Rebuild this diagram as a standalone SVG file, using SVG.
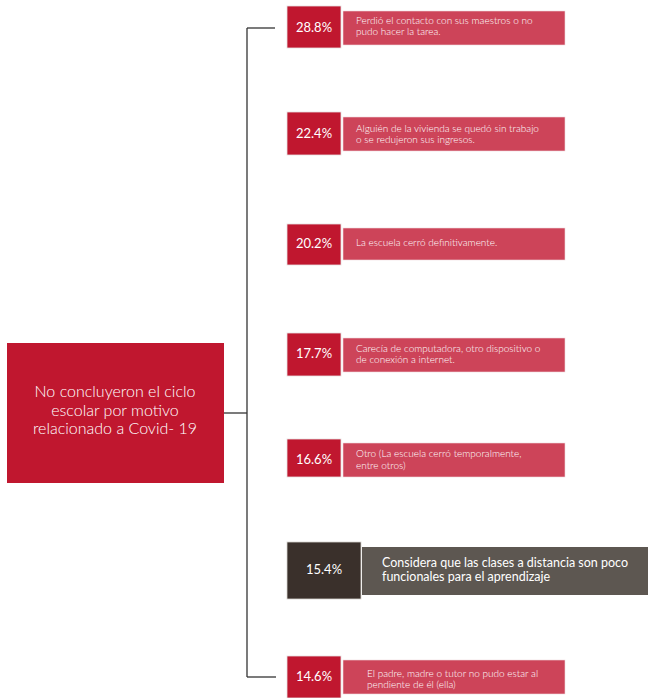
<svg xmlns="http://www.w3.org/2000/svg" width="653" height="698" viewBox="0 0 653 698">
<style>
.pb{fill:#C0172F;stroke:#E6E0E0;stroke-width:0.8}
.tb{fill:#CD4459;stroke:#EEDADD;stroke-width:0.6}
.pt{font-family:Lato,"Noto Sans",sans-serif;font-weight:400;font-size:13px;fill:#FFFFFF;text-anchor:middle}
.tt{font-family:Lato,"Noto Sans",sans-serif;font-weight:300;font-size:10px;fill:#FFFFFF}
.ln{stroke:#333333;stroke-width:1.3;fill:none}
</style>
<rect width="653" height="698" fill="#FFFFFF"/>
<g id="connectors">
<line class="ln" x1="247" y1="28" x2="247" y2="677"/>
<line class="ln" x1="247" y1="28" x2="275" y2="28"/>
<line class="ln" x1="247" y1="677" x2="276" y2="677"/>
<line class="ln" x1="224" y1="413" x2="247" y2="413" stroke="#666666"/>
</g>
<g id="center">
<rect x="7" y="343" width="217" height="140" fill="#C0172F"/>
<text font-family="Lato,'Noto Sans',sans-serif" font-weight="300" font-size="16" fill="#FFFFFF" text-anchor="middle"><tspan x="115" y="397">No concluyeron el ciclo</tspan><tspan x="115" y="415.5">escolar por motivo</tspan><tspan x="115" y="434">relacionado a Covid- 19</tspan></text>
</g>
<g id="item1">
<rect class="pb" x="287" y="6" width="54" height="42"/>
<text class="pt" x="314" y="32">28.8%</text>
<rect class="tb" x="343" y="11" width="222" height="34"/>
<text class="tt"><tspan x="356" y="24">Perdió el contacto con sus maestros o no</tspan><tspan x="356" y="35">pudo hacer la tarea.</tspan></text>
</g>
<g id="item2">
<rect class="pb" x="287" y="112" width="54" height="43"/>
<text class="pt" x="314" y="138">22.4%</text>
<rect class="tb" x="343" y="117" width="222" height="34"/>
<text class="tt"><tspan x="356" y="132">Alguién de la vivienda se quedó sin trabajo</tspan><tspan x="356" y="143">o se redujeron sus ingresos.</tspan></text>
</g>
<g id="item3">
<rect class="pb" x="287" y="224" width="54" height="41"/>
<text class="pt" x="314" y="248">20.2%</text>
<rect class="tb" x="343" y="228" width="222" height="32"/>
<text class="tt" x="356" y="246">La escuela cerró definitivamente.</text>
</g>
<g id="item4">
<rect class="pb" x="287" y="333" width="54" height="43"/>
<text class="pt" x="314" y="358">17.7%</text>
<rect class="tb" x="343" y="338" width="222" height="34"/>
<text class="tt"><tspan x="356" y="352">Carecía de computadora, otro dispositivo o</tspan><tspan x="356" y="363">de conexión a internet.</tspan></text>
</g>
<g id="item5">
<rect class="pb" x="287" y="439" width="54" height="38"/>
<text class="pt" x="314" y="464">16.6%</text>
<rect class="tb" x="343" y="443" width="222" height="34"/>
<text class="tt"><tspan x="356" y="457">Otro (La escuela cerró temporalmente,</tspan><tspan x="356" y="469">entre otros)</tspan></text>
</g>
<g id="item6">
<rect x="287" y="542" width="74" height="57" fill="#3A302B" stroke="#D8D4D0" stroke-width="0.8"/>
<text class="pt" x="324" y="574">15.4%</text>
<rect x="362" y="547" width="286" height="48" fill="#5D5751"/>
<text font-family="Lato,'Noto Sans',sans-serif" font-weight="400" font-size="12.5px" fill="#FFFFFF"><tspan x="382" y="567">Considera que las clases a distancia son poco</tspan><tspan x="382" y="580.5">funcionales para el aprendizaje</tspan></text>
</g>
<g id="item7">
<rect class="pb" x="287" y="656" width="54" height="42"/>
<text class="pt" x="314" y="681">14.6%</text>
<rect class="tb" x="343" y="660" width="222" height="34"/>
<text class="tt"><tspan x="367" y="677">El padre, madre o tutor no pudo estar al</tspan><tspan x="367" y="688">pendiente de él (ella)</tspan></text>
</g>
</svg>
